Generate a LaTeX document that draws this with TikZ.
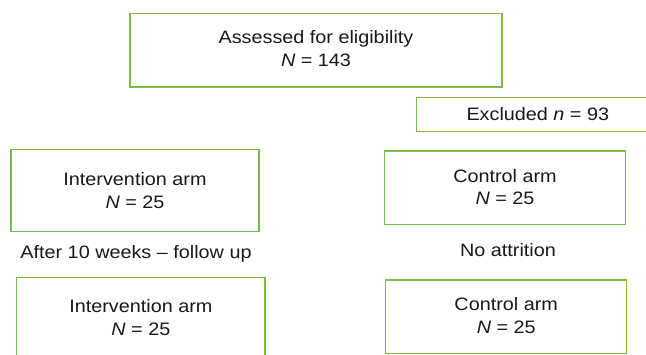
\documentclass[tikz,border=0pt]{standalone}
\usepackage{fontspec}
\setmainfont{Liberation Sans}[FakeStretch=1.1]
\definecolor{boxgreen}{RGB}{124,186,74}
\begin{document}
\begin{tikzpicture}[x=1pt,y=-1pt,
  box/.style={draw=boxgreen, line width=1.3pt, inner sep=0pt, align=center,
    font=\fontsize{18pt}{22.7pt}\selectfont, text=black!90},
  plain/.style={inner sep=0pt, anchor=base, font=\fontsize{18pt}{22.7pt}\selectfont, text=black!90}]
\clip (0,0) rectangle (646,354);
\fill[white] (0,0) rectangle (646,354);
\node[box, minimum width=372pt, minimum height=73.7pt, text depth=3.6pt] (top) at (316,50.2)
  {Assessed for eligibility\\\textit{N} = 143};
\node[box, minimum width=242.3pt, minimum height=34.4pt] (excl) at (537.8,114.5)
  {Excluded \textit{n} = 93};
\node[box, minimum width=248pt, minimum height=82.4pt] (int1) at (135,190.5)
  {Intervention arm\\\textit{N} = 25};
\node[box, minimum width=241.4pt, minimum height=73.7pt, text depth=1.6pt] (ctl1) at (505,187.85)
  {Control arm\\\textit{N} = 25};
\node[plain] (follow) at (136,258) {After 10 weeks – follow up};
\node[plain] (noatt) at (508,256.7) {No attrition};
\node[box, minimum width=248.3pt, minimum height=80.7pt] (int2) at (140.85,317.65)
  {Intervention arm\\\textit{N} = 25};
\node[box, minimum width=241pt, minimum height=73.3pt, text depth=3pt] (ctl2) at (506.2,316.65)
  {Control arm\\\textit{N} = 25};
\end{tikzpicture}
\end{document}
